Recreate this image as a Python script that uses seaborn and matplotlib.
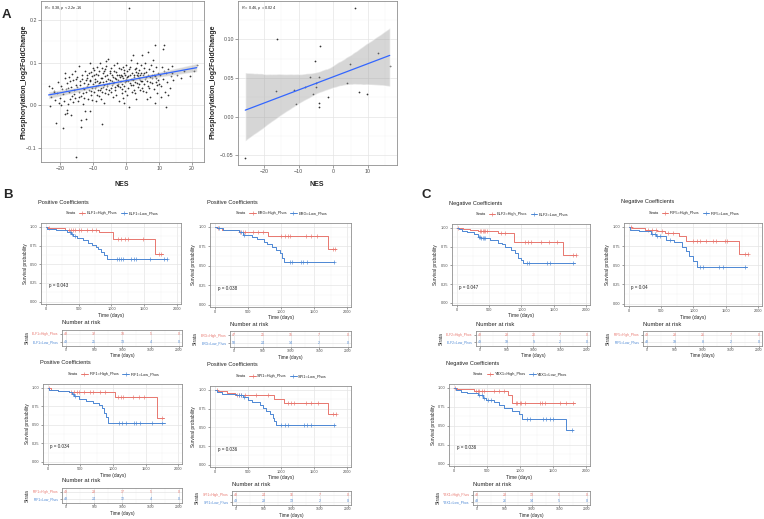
import numpy as np
import seaborn as sns
import matplotlib.pyplot as plt
from matplotlib.lines import Line2D
from matplotlib.collections import PolyCollection

# ------------------------------------------------------------------
# Panel A : NES vs phosphorylation log2FC (all TFs / selected TFs)
# ------------------------------------------------------------------
nes_all = [-23.5, -23.2, -22.8, -22.5, -22.0, -21.8, -21.5, -21.2, -20.8, -20.5, -20.3, -20.0,
           -19.8, -19.6, -19.4, -19.2, -19.0, -18.8, -18.6, -18.5, -18.4, -18.2, -18.0, -17.9, -17.8, -17.6,
           -17.5, -17.4, -17.2, -17.0, -16.9, -16.8, -16.6, -16.5, -16.4, -16.2, -16.0, -15.8, -15.7, -15.6,
           -15.4, -15.3, -15.2, -15.1,
           -14.9, -14.8, -14.6, -14.4, -14.3, -14.2, -14.0, -13.9, -13.8, -13.7, -13.6, -13.5, -13.4, -13.2,
           -13.1, -13.0, -12.9, -12.8, -12.7, -12.6, -12.4, -12.3, -12.2, -12.1, -12.0, -11.9, -11.8, -11.6,
           -11.5, -11.4, -11.2, -11.1, -11.0, -10.9, -10.8, -10.7, -10.6, -10.5, -10.4, -10.3, -10.2, -10.1,
           -9.9, -9.8, -9.7, -9.6, -9.5, -9.4, -9.3, -9.2, -9.1, -9.0, -8.9, -8.8, -8.7, -8.6, -8.5, -8.4,
           -8.3, -8.2, -8.1, -8.0, -7.9, -7.8, -7.7, -7.6, -7.5, -7.4, -7.4, -7.3, -7.2, -7.1, -7.0, -6.9,
           -6.8, -6.7, -6.6, -6.5, -6.4, -6.3, -6.2, -6.1, -6.0, -6.0, -5.9, -5.8, -5.7, -5.6, -5.5, -5.4,
           -5.3, -5.2, -5.0,
           -4.9, -4.8, -4.7, -4.6, -4.5, -4.4, -4.3, -4.2, -4.1, -4.0, -3.9, -3.8, -3.7, -3.6, -3.5, -3.4,
           -3.3, -3.2, -3.1, -3.0, -2.9, -2.8, -2.7, -2.6, -2.5, -2.4, -2.3, -2.2, -2.1, -2.0, -1.9, -1.8,
           -1.7, -1.6, -1.5, -1.4, -1.3, -1.2, -1.1, -1.0, -0.9, -0.8, -0.7, -0.6, -0.5, -0.5, -0.4, -0.3,
           -0.2, -0.1,
           0.0, 0.1, 0.2, 0.3, 0.4, 0.5, 0.6, 0.7, 0.8, 0.9, 1.0, 1.1, 1.2, 1.3, 1.4, 1.5, 1.6, 1.7, 1.8, 1.9,
           2.0, 2.1, 2.2, 2.3, 2.4, 2.5, 2.6, 2.7, 2.8, 2.9, 3.0, 3.1, 3.2, 3.3, 3.4, 3.5, 3.6, 3.7, 3.8, 3.9,
           4.0, 4.1, 4.2, 4.3, 4.4, 4.5, 4.6, 4.7, 4.8, 4.9,
           5.1, 5.2, 5.3, 5.4, 5.5, 5.7, 5.8, 5.9, 6.0, 6.1, 6.2, 6.3, 6.5, 6.6, 6.7, 6.9, 7.0, 7.1, 7.2, 7.3,
           7.5, 7.7, 7.8, 7.9, 8.0, 8.1, 8.3, 8.4, 8.6, 8.8, 8.9, 9.0, 9.1, 9.2, 9.4, 9.5, 9.6, 9.8,
           10.0, 10.2, 10.5, 10.6, 10.8, 11.1, 11.3, 11.5, 11.6, 11.8, 12.0, 12.2, 12.5, 12.6, 12.8, 13.2,
           13.5, 13.8, 14.0, 14.3,
           15.5, 16.5, 17.4, 19.4, 20.5, 21.4]
phos_all = [0.046, -0.002, 0.020, 0.040, 0.033, 0.031, 0.012, -0.041, 0.028, 0.054, 0.005, 0.018,
            0.000, 0.045, 0.038, -0.053, 0.026, 0.010, 0.064, 0.075, -0.020, 0.037, -0.012, -0.017, 0.052,
            0.003, 0.041, 0.030, 0.067, 0.015, 0.056, -0.023, 0.042, 0.074, 0.022, 0.060, 0.008, 0.035, 0.027,
            0.080, 0.018, 0.062, -0.121, 0.048,
            0.066, 0.044, 0.010, 0.093, 0.019, 0.032, 0.058, 0.047, -0.034, -0.051, 0.022, 0.061, 0.070, 0.040,
            0.028, 0.003, 0.017, 0.052, 0.038, 0.080, -0.013, 0.059, 0.030, -0.033, 0.063, 0.072, 0.045, 0.015,
            0.050, 0.075, 0.036, 0.060, 0.100, -0.013, 0.056, 0.033, 0.025, 0.079, 0.068, 0.012, 0.041, 0.088,
            0.050, 0.030, 0.071, 0.082, 0.054, 0.062, 0.040, 0.010, 0.074, 0.045, 0.058, 0.090, 0.025, 0.036,
            0.048, 0.070, 0.052, 0.021, 0.080, 0.055, 0.035, 0.098, 0.063, 0.040, 0.015, 0.065, 0.088, -0.045,
            0.030, 0.055, 0.076, 0.042, 0.048, 0.080, 0.005, 0.068, 0.085, 0.028, 0.058, 0.092, 0.038, 0.103,
            0.050, 0.070, 0.045, 0.026, 0.062, 0.109, 0.035, 0.052, 0.080,
            0.060, 0.075, 0.040, 0.030, 0.088, 0.048, 0.070, 0.058, 0.020, 0.066, 0.052, 0.080, 0.095, 0.055,
            0.065, 0.043, 0.035, 0.062, 0.078, 0.025, 0.048, 0.072, 0.100, 0.050, 0.060, 0.045, 0.010, 0.088,
            0.072, 0.058, 0.042, 0.066, 0.085, 0.070, 0.056, 0.038, 0.028, 0.050, 0.068, 0.018, 0.090, 0.064,
            0.046, 0.082, 0.075, 0.005, 0.054, 0.033, 0.071, 0.062,
            0.095, 0.058, 0.066, 0.080, 0.025, 0.040, 0.056, 0.068, -0.004, 0.085, 0.229, 0.052, 0.072, 0.090,
            0.105, 0.062, 0.048, 0.030, 0.062, 0.075, 0.060, 0.048, 0.118, 0.036, 0.066, 0.070, 0.085, 0.028,
            0.055, 0.078, 0.015, 0.088, 0.072, 0.052, 0.100, 0.076, 0.044, 0.068, 0.064, 0.050, 0.082, 0.060,
            0.035, 0.070, 0.058, 0.075, 0.094, 0.040, 0.058, 0.118,
            0.070, 0.034, 0.050, 0.075, 0.088, 0.062, 0.100, 0.030, 0.066, 0.078, 0.015, 0.058, 0.126, 0.070,
            0.045, 0.085, 0.040, 0.066, 0.055, 0.020, 0.095, 0.072, 0.065, 0.052, 0.105, 0.080, 0.038, 0.072,
            0.005, 0.141, 0.068, 0.065, 0.055, 0.090, 0.048, 0.028, 0.075, 0.060,
            0.050, 0.070, 0.045, 0.020, 0.090, 0.131, 0.062, 0.142, 0.080, 0.030, -0.004, 0.075, 0.055, 0.025,
            0.085, 0.040, 0.068, 0.091, 0.075, 0.060,
            0.072, 0.065, 0.080, 0.068, 0.080, 0.095]

nes_sub = [-25.4, -16.5, -16.1, -11.3, -10.8, -8.2, -6.7, -5.9, -5.2, -5.0, -4.9, -4.2,
           -4.2, -4.2, -3.9, -1.5, 4.0, 4.7, 6.3, 7.4, 9.8, 13.0, 16.3]
phos_sub = [-0.053, 0.033, 0.100, 0.034, 0.017, 0.039, 0.051, 0.029, 0.072, 0.044, 0.039, 0.051,
            0.018, 0.013, 0.092, 0.025, 0.043, 0.068, 0.140, 0.032, 0.029, 0.083, 0.065]

# ------------------------------------------------------------------
# Panels B / C : Kaplan-Meier curves (step times, survival, censoring)
# ------------------------------------------------------------------
elf1_hi_t = [0, 30, 290, 815, 1030, 1670, 1780]
elf1_hi_s = [1.0, 0.98, 0.96, 0.93, 0.84, 0.635, 0.635]
elf1_hi_c = [40, 350, 380, 420, 450, 500, 540, 620, 700, 770, 1100, 1150, 1200, 1250, 1480, 1720, 1760]
elf1_lo_t = [0, 20, 150, 320, 380, 420, 470, 560, 640, 700, 760, 800, 840, 880, 930, 1850]
elf1_lo_s = [1.0, 0.97, 0.955, 0.935, 0.91, 0.88, 0.85, 0.82, 0.79, 0.76, 0.73, 0.70, 0.66, 0.62, 0.57, 0.57]
elf1_lo_c = [370, 400, 440, 1080, 1110, 1140, 1170, 1300, 1340, 1380, 1580, 1800, 1840]
elf1_risk_hi = [48, 32, 18, 5, 0]
elf1_risk_lo = [49, 25, 13, 4, 0]

erg_hi_t = [0, 30, 100, 360, 805, 1710, 1840]
erg_hi_s = [1.0, 0.98, 0.96, 0.94, 0.885, 0.71, 0.71]
erg_hi_c = [50, 380, 420, 460, 580, 650, 720, 1000, 1060, 1100, 1140, 1380, 1450, 1550, 1780, 1820]
erg_lo_t = [0, 30, 120, 360, 430, 560, 640, 740, 790, 870, 920, 990, 1020, 1050, 1810]
erg_lo_s = [1.0, 0.98, 0.96, 0.93, 0.90, 0.87, 0.84, 0.80, 0.78, 0.74, 0.70, 0.66, 0.60, 0.55, 0.55]
erg_lo_c = [60, 400, 440, 1130, 1160, 1300, 1340, 1400, 1800]
erg_risk_hi = [47, 25, 15, 7, 0]
erg_risk_lo = [50, 24, 14, 2, 0]

irf1_hi_t = [0, 50, 150, 330, 1030, 1670, 1790]
irf1_hi_s = [1.0, 0.97, 0.955, 0.94, 0.88, 0.59, 0.59]
irf1_hi_c = [20, 360, 400, 440, 480, 560, 640, 700, 800, 880, 1080, 1120, 1160, 1300, 1400, 1480, 1750]
irf1_lo_t = [0, 20, 150, 330, 370, 400, 480, 590, 700, 780, 830, 860, 890, 930, 1800]
irf1_lo_s = [1.0, 0.97, 0.955, 0.94, 0.91, 0.89, 0.85, 0.82, 0.79, 0.76, 0.72, 0.66, 0.60, 0.53, 0.53]
irf1_lo_c = [380, 420, 1100, 1140, 1200, 1320, 1360, 1420, 1600, 1760]
irf1_risk_hi = [49, 23, 17, 5, 0]
irf1_risk_lo = [48, 24, 12, 4, 0]

spi1_hi_t = [0, 50, 180, 310, 890, 1045, 1710, 1840]
spi1_hi_s = [1.0, 0.98, 0.96, 0.935, 0.88, 0.83, 0.675, 0.675]
spi1_hi_c = [30, 330, 360, 400, 450, 620, 800, 1100, 1150, 1200, 1380, 1450, 1560, 1790, 1830]
spi1_lo_t = [0, 30, 100, 320, 420, 500, 560, 680, 720, 780, 840, 880, 900, 930, 1820]
spi1_lo_s = [1.0, 0.97, 0.95, 0.93, 0.90, 0.87, 0.84, 0.80, 0.76, 0.72, 0.68, 0.62, 0.58, 0.525, 0.525]
spi1_lo_c = [360, 400, 440, 1000, 1060, 1100, 1350, 1400, 1450, 1800]
spi1_risk_hi = [48, 24, 16, 7, 0]
spi1_risk_lo = [49, 23, 13, 2, 0]

elf2_hi_t = [0, 100, 200, 330, 635, 890, 1650, 1850]
elf2_hi_s = [1.0, 0.98, 0.97, 0.96, 0.93, 0.81, 0.64, 0.64]
elf2_hi_c = [20, 360, 380, 400, 420, 440, 460, 680, 750, 1050, 1100, 1150, 1300, 1420, 1550, 1800, 1840]
elf2_lo_t = [0, 30, 80, 150, 260, 330, 380, 520, 640, 700, 750, 840, 900, 950, 1000, 1030, 1830]
elf2_lo_s = [1.0, 0.98, 0.96, 0.94, 0.92, 0.88, 0.87, 0.84, 0.80, 0.78, 0.74, 0.70, 0.66, 0.60, 0.57,
             0.535, 0.535]
elf2_lo_c = [340, 360, 380, 400, 420, 440, 1080, 1120, 1400, 1440, 1800]
elf2_risk_hi = [48, 28, 20, 7, 0]
elf2_risk_lo = [49, 19, 9, 2, 0]

irf5_hi_t = [0, 50, 250, 440, 560, 770, 880, 1700, 1850]
irf5_hi_s = [1.0, 0.98, 0.965, 0.94, 0.92, 0.875, 0.82, 0.65, 0.65]
irf5_hi_c = [30, 300, 360, 420, 520, 600, 680, 1000, 1060, 1100, 1200, 1300, 1350, 1480, 1520, 1800, 1840]
irf5_lo_t = [0, 20, 150, 350, 420, 575, 700, 830, 880, 930, 985, 1060, 1830]
irf5_lo_s = [1.0, 0.96, 0.95, 0.91, 0.88, 0.83, 0.80, 0.74, 0.68, 0.62, 0.55, 0.48, 0.48]
irf5_lo_c = [360, 400, 440, 480, 640, 1100, 1150, 1400, 1450, 1800]
irf5_risk_hi = [49, 28, 21, 7, 0]
irf5_risk_lo = [48, 19, 8, 2, 0]

ybx1_hi_t = [0, 50, 310, 820, 880, 1830]
ybx1_hi_s = [1.0, 0.98, 0.96, 0.91, 0.80, 0.80]
ybx1_hi_c = [20, 340, 360, 380, 420, 460, 600, 680, 760, 940, 960, 1000, 1020, 1080, 1300, 1340, 1380,
             1600, 1700, 1800]
ybx1_lo_t = [0, 30, 100, 200, 360, 440, 490, 610, 680, 760, 880, 980, 1030, 1700, 1800]
ybx1_lo_s = [1.0, 0.97, 0.95, 0.93, 0.90, 0.87, 0.84, 0.81, 0.77, 0.73, 0.70, 0.66, 0.59, 0.44, 0.44]
ybx1_lo_c = [380, 420, 460, 520, 560, 1100, 1150, 1350, 1400, 1450, 1500, 1780]
ybx1_risk_hi = [48, 23, 13, 5, 0]
ybx1_risk_lo = [48, 26, 14, 5, 0]

risk_times = [0, 500, 1000, 1500, 2000]

RED = '#E8766E'
BLUE = '#4C87D4'
W, H = 764, 519

sns.set_theme(style='white')
plt.rcParams['font.family'] = ['Liberation Sans', 'DejaVu Sans']
plt.rcParams['mathtext.fontset'] = 'custom'
plt.rcParams['mathtext.it'] = 'Liberation Sans:italic'
plt.rcParams['mathtext.rm'] = 'Liberation Sans'

fig = plt.figure(figsize=(W / 100, H / 100), dpi=100)


def box(l, t, r, b):
    # pixel box -> figure fraction rect
    return [l / W, 1 - b / H, (r - l) / W, (b - t) / H]


def fx(x):
    return x / W


def fy(y):
    return 1 - y / H


def style_ax(ax, size):
    ax.set_facecolor('white')
    for sp in ax.spines.values():
        sp.set_color('#8f8f8f')
        sp.set_linewidth(0.6)
    ax.grid(True, which='major', color='#e4e4e4', lw=0.5)
    ax.grid(True, which='minor', color='#f1f1f1', lw=0.3)
    ax.set_axisbelow(True)
    ax.tick_params(which='major', length=1.5, width=0.4, color='#555555', labelsize=size,
                   labelcolor='#4d4d4d', pad=1, bottom=True, left=True)
    ax.tick_params(which='minor', length=0)
    ax.set_xlabel('')
    ax.set_ylabel('')


def scatter_panel(rect, x, y, xlim, ylim, xt, yt, xmin, ymin, label):
    ax = fig.add_axes(rect)
    sns.regplot(x=x, y=y, ax=ax, ci=95, seed=0,
                scatter_kws=dict(s=1.6, color='black', linewidths=0),
                line_kws=dict(color='#3366FF', lw=0.9))
    for coll in ax.collections:
        if isinstance(coll, PolyCollection):
            coll.set_facecolor('#9a9a9a')
            coll.set_alpha(0.4)
    ax.set_xlim(*xlim)
    ax.set_ylim(*ylim)
    ax.set_xticks(xt)
    ax.set_yticks(yt)
    ax.set_xticks(xmin, minor=True)
    ax.set_yticks(ymin, minor=True)
    style_ax(ax, 3.8)
    ax.tick_params(which='major', length=2)
    ax.text(0.02, 0.955, label, transform=ax.transAxes, fontsize=2.8, va='center', ha='left')
    return ax


# ---------------- panel A ----------------
scatter_panel(box(41, 1, 204, 162), nes_all, phos_all, (-25.8, 23.6), (-0.133, 0.2445),
              [-20, -10, 0, 10, 20], [-0.1, 0.0, 0.1, 0.2], [-15, -5, 5, 15], [-0.05, 0.05, 0.15],
              r'$R$ = 0.38, $p$ < 2.2e-16')
scatter_panel(box(238, 1, 397, 165), nes_sub, phos_sub, (-27.5, 18.4), (-0.0625, 0.1497),
              [-20, -10, 0, 10], [-0.05, 0.0, 0.05, 0.10], [-15, -5, 5, 15], [-0.025, 0.025, 0.075, 0.125],
              r'$R$ = 0.46, $p$ = 0.024')
for xc in (24, 213):
    fig.text(fx(xc), fy(82), 'Phosphorylation_log2FoldChange', rotation=90, fontsize=5,
             fontweight='bold', ha='center', va='center')
for xc in (122, 317):
    fig.text(fx(xc), fy(184), 'NES', fontsize=5, fontweight='bold', ha='center', va='center')

fig.text(fx(2), fy(15), 'A', fontsize=9.5, fontweight='bold', ha='left', va='center')
fig.text(fx(3), fy(195), 'B', fontsize=9.5, fontweight='bold', ha='left', va='center')
fig.text(fx(421), fy(195), 'C', fontsize=9.5, fontweight='bold', ha='left', va='center')


def surv_at(t, s, c):
    idx = np.searchsorted(t, c, side='right') - 1
    return np.asarray(s)[idx]


def km_panel(km_box, risk_box, gene, title, pval, hi, lo, risk_hi, risk_lo):
    l, t, r, b = km_box
    ax = fig.add_axes(box(*km_box))
    for (tt, ss, cc), col in zip([hi, lo], [RED, BLUE]):
        sns.lineplot(x=tt, y=ss, ax=ax, color=col, lw=0.7, drawstyle='steps-post',
                     estimator=None, sort=False)
        ax.plot(cc, surv_at(tt, ss, cc), ls='none', marker='+', color=col, ms=2.2, mew=0.45)
    ax.set_xlim(-75, 2060)
    ax.set_ylim(-0.03, 1.05)
    ax.set_xticks(risk_times)
    ax.set_yticks([0, 0.25, 0.5, 0.75, 1.0])
    ax.set_xticks([250, 750, 1250, 1750], minor=True)
    ax.set_yticks([0.125, 0.375, 0.625, 0.875], minor=True)
    ax.set_yticklabels(['0.00', '0.25', '0.50', '0.75', '1.00'])
    style_ax(ax, 2.8)
    ax.text(40, 0.21, f'p = {pval}', fontsize=3.3, ha='left', va='center', color='#222222')

    fig.text(fx(l - 3), fy(t - 21), title, fontsize=4.1, ha='left', va='center', color='#222222')
    handles = [Line2D([], [], color='none'),
               Line2D([], [], color=RED, lw=0.7, marker='+', ms=2.2, mew=0.45),
               Line2D([], [], color=BLUE, lw=0.7, marker='+', ms=2.2, mew=0.45)]
    labels = ['Strata', f'{gene}=High_Phos', f'{gene}=Low_Phos']
    fig.legend(handles, labels, loc='center', bbox_to_anchor=(fx((l + r) / 2 - 3), fy(t - 10)),
               ncol=3, frameon=False, fontsize=2.8, handlelength=1.6, handletextpad=0.4,
               columnspacing=0.9, borderpad=0, borderaxespad=0)
    fig.text(fx(l - 16), fy((t + b) / 2), 'Survival probability', rotation=90, fontsize=3.4,
             ha='center', va='center', color='#222222')
    fig.text(fx((l + r) / 2), fy(b + 11), 'Time (days)', fontsize=3.5, ha='center', va='center',
             color='#222222')

    # risk table
    rl, rt, rr, rb = risk_box
    rax = fig.add_axes(box(*risk_box))
    rax.set_xlim(-75, 2060)
    rax.set_ylim(0.5, 2.5)
    for xv, n in zip(risk_times, risk_hi):
        rax.text(xv, 2, str(n), color=RED, fontsize=2.5, ha='center', va='center')
    for xv, n in zip(risk_times, risk_lo):
        rax.text(xv, 1, str(n), color=BLUE, fontsize=2.5, ha='center', va='center')
    rax.set_xticks(risk_times)
    rax.set_yticks([2, 1])
    rax.set_xticks([250, 750, 1250, 1750], minor=True)
    style_ax(rax, 2.4)
    rax.tick_params(axis='x', pad=0.5, length=1.2)
    rax.set_yticklabels(labels[1:])
    for lab, col in zip(rax.get_yticklabels(), [RED, BLUE]):
        lab.set_color(col)
    fig.text(fx(rl), fy(rt - 7), 'Number at risk', fontsize=4.2, ha='left', va='center', color='#222222')
    fig.text(fx(rl - 35), fy((rt + rb) / 2), 'Strata', rotation=90, fontsize=3.4, ha='center',
             va='center', color='#222222')
    fig.text(fx((rl + rr) / 2), fy(rb + 10), 'Time (days)', fontsize=3.3, ha='center', va='center',
             color='#222222')


km_panel((41, 223, 181, 304), (62, 330, 182, 346), 'ELF1', 'Positive Coefficients', '0.043',
         (elf1_hi_t, elf1_hi_s, elf1_hi_c), (elf1_lo_t, elf1_lo_s, elf1_lo_c), elf1_risk_hi, elf1_risk_lo)
km_panel((210, 223, 351, 307), (230, 331, 351, 347), 'ERG', 'Positive Coefficients', '0.038',
         (erg_hi_t, erg_hi_s, erg_hi_c), (erg_lo_t, erg_lo_s, erg_lo_c), erg_risk_hi, erg_risk_lo)
km_panel((43, 384, 182, 464), (62, 488, 182, 503), 'IRF1', 'Positive Coefficients', '0.034',
         (irf1_hi_t, irf1_hi_s, irf1_hi_c), (irf1_lo_t, irf1_lo_s, irf1_lo_c), irf1_risk_hi, irf1_risk_lo)
km_panel((210, 386, 351, 467), (232, 491, 351, 505), 'SPI1', 'Positive Coefficients', '0.036',
         (spi1_hi_t, spi1_hi_s, spi1_hi_c), (spi1_lo_t, spi1_lo_s, spi1_lo_c), spi1_risk_hi, spi1_risk_lo)
km_panel((452, 224, 590, 305), (476, 331, 590, 346), 'ELF2', 'Negative Coefficients', '0.047',
         (elf2_hi_t, elf2_hi_s, elf2_hi_c), (elf2_lo_t, elf2_lo_s, elf2_lo_c), elf2_risk_hi, elf2_risk_lo)
km_panel((624, 223, 762, 306), (643, 331, 762, 346), 'IRF5', 'Negative Coefficients', '0.04',
         (irf5_hi_t, irf5_hi_s, irf5_hi_c), (irf5_lo_t, irf5_lo_s, irf5_lo_c), irf5_risk_hi, irf5_risk_lo)
km_panel((449, 384, 590, 466), (473, 491, 590, 505), 'YBX1', 'Negative Coefficients', '0.036',
         (ybx1_hi_t, ybx1_hi_s, ybx1_hi_c), (ybx1_lo_t, ybx1_lo_s, ybx1_lo_c), ybx1_risk_hi, ybx1_risk_lo)

plt.savefig('out.png', dpi=100)
